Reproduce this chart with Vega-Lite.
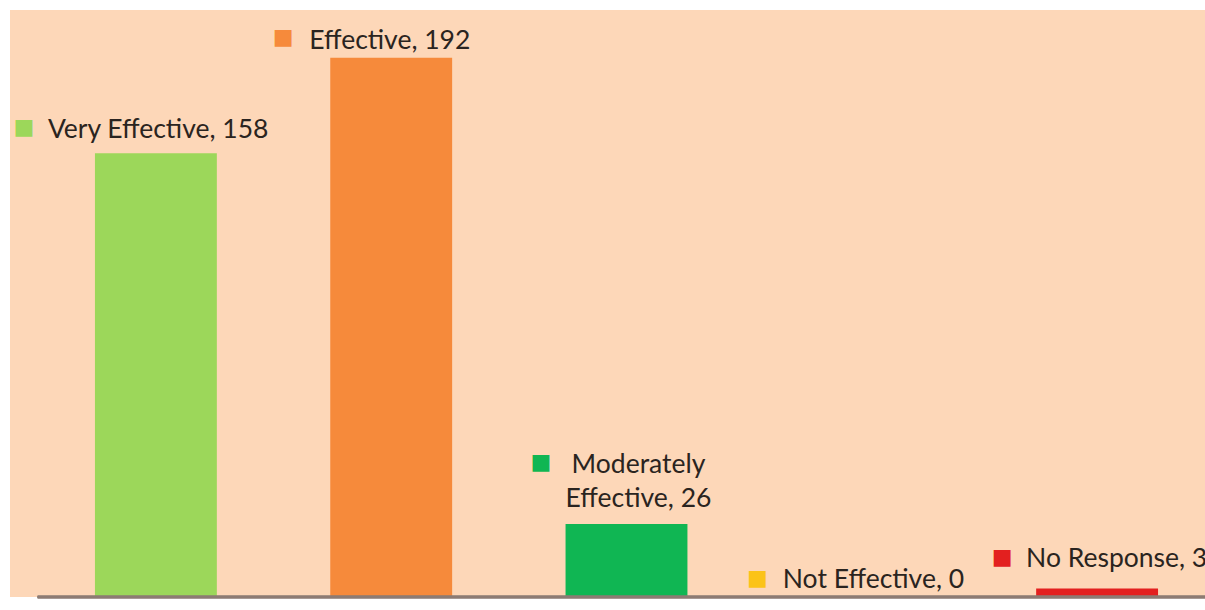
{
  "$schema": "https://vega.github.io/schema/vega-lite/v6.json",
  "width": 1195,
  "height": 587,
  "autosize": "none",
  "padding": {"left": 10, "top": 10, "right": 0, "bottom": 13},
  "background": "#FFFFFF",
  "view": {"fill": "#FDD7B8", "stroke": null},
  "config": {"text": {"font": "Lato", "fontSize": 26.5, "color": "#2A2420"}},
  "data": {"values": [
    {"category": "Very Effective", "value": 158, "label": "Very Effective, 158"},
    {"category": "Effective", "value": 192, "label": "Effective, 192"},
    {"category": "Moderately Effective", "value": 26, "label": "Moderately\nEffective, 26"},
    {"category": "Not Effective", "value": 0, "label": "Not Effective, 0"},
    {"category": "No Response", "value": 3, "label": "No Response, 3"}
  ]},
  "encoding": {
    "x": {"field": "category", "type": "nominal", "sort": null, "axis": null,
          "scale": {"paddingInner": 0.482, "paddingOuter": 0.2803, "align": 0.644}},
    "y": {"field": "value", "type": "quantitative", "axis": null, "scale": {"domain": [0, 209], "nice": false}}
  },
  "layer": [
    {
      "mark": {"type": "bar"},
      "encoding": {
        "color": {"field": "category", "type": "nominal", "legend": null,
          "scale": {"domain": ["Very Effective", "Effective", "Moderately Effective", "Not Effective", "No Response"],
                    "range": ["#9CD75A", "#F68A3B", "#10B653", "#FBC318", "#E3201F"]}}
      }
    },
    {
      "mark": {"type": "rule", "color": "#8D7B73", "strokeWidth": 2.5},
      "encoding": {
        "x": {"datum": "Very Effective", "bandPosition": -0.47},
        "x2": {"datum": "No Response", "bandPosition": 1.5},
        "y": {"datum": 0}
      }
    },
    {
      "transform": [{"filter": "datum.category === 'Very Effective'"}],
      "layer": [
        {"mark": {"type": "text", "text": "■", "font": "DejaVu Sans", "fontSize": 22, "align": "center", "baseline": "middle", "dx": -132, "dy": -26.5},
         "encoding": {"color": {"field": "category", "type": "nominal", "legend": null}}},
        {"mark": {"type": "text", "align": "left", "baseline": "alphabetic", "dx": -108, "dy": -15},
         "encoding": {"text": {"field": "label"}}}
      ]
    },
    {
      "transform": [{"filter": "datum.category === 'Effective'"}],
      "layer": [
        {"mark": {"type": "text", "text": "■", "font": "DejaVu Sans", "fontSize": 22, "align": "center", "baseline": "middle", "dx": -108, "dy": -20.5},
         "encoding": {"color": {"field": "category", "type": "nominal", "legend": null}}},
        {"mark": {"type": "text", "align": "left", "baseline": "alphabetic", "dx": -82, "dy": -9},
         "encoding": {"text": {"field": "label"}}}
      ]
    },
    {
      "transform": [{"filter": "datum.category === 'Moderately Effective'"}],
      "layer": [
        {"mark": {"type": "text", "text": "■", "font": "DejaVu Sans", "fontSize": 22, "align": "center", "baseline": "middle", "dx": -85.5, "dy": -61.5},
         "encoding": {"color": {"field": "category", "type": "nominal", "legend": null}}},
        {"mark": {"type": "text", "align": "center", "baseline": "alphabetic", "lineBreak": "\n", "lineHeight": 34, "dx": 12, "dy": -51},
         "encoding": {"text": {"field": "label"}}}
      ]
    },
    {
      "transform": [{"filter": "datum.category === 'Not Effective'"}],
      "layer": [
        {"mark": {"type": "text", "text": "■", "font": "DejaVu Sans", "fontSize": 22, "align": "center", "baseline": "middle", "dx": -104.5, "dy": -19.5},
         "encoding": {"color": {"field": "category", "type": "nominal", "legend": null}}},
        {"mark": {"type": "text", "align": "left", "baseline": "alphabetic", "dx": -79, "dy": -9},
         "encoding": {"text": {"field": "label"}}}
      ]
    },
    {
      "transform": [{"filter": "datum.category === 'No Response'"}],
      "layer": [
        {"mark": {"type": "text", "text": "■", "font": "DejaVu Sans", "fontSize": 22, "align": "center", "baseline": "middle", "dx": -95, "dy": -31.5},
         "encoding": {"color": {"field": "category", "type": "nominal", "legend": null}}},
        {"mark": {"type": "text", "align": "left", "baseline": "alphabetic", "dx": -71, "dy": -22},
         "encoding": {"text": {"field": "label"}}}
      ]
    }
  ]
}
